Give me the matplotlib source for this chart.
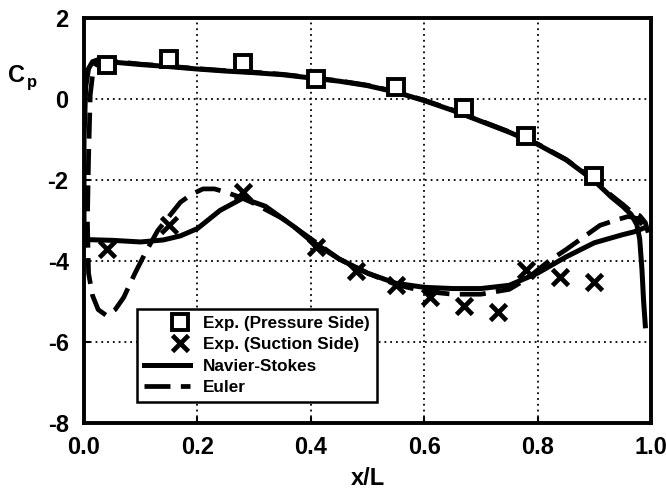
import numpy as np
import matplotlib
matplotlib.use('Agg')
import matplotlib.pyplot as plt
from matplotlib.lines import Line2D
from matplotlib.legend_handler import HandlerLine2DCompound

plt.rcParams['font.family'] = 'Liberation Sans'
plt.rcParams['font.weight'] = 'bold'
plt.rcParams['axes.unicode_minus'] = False

# measured Cp
exp_ps_x = [0.04, 0.15, 0.28, 0.41, 0.55, 0.67, 0.78, 0.90]
exp_ps_cp = [0.85, 0.98, 0.88, 0.50, 0.29, -0.23, -0.91, -1.90]
exp_ss_x = [0.04, 0.15, 0.28, 0.41, 0.48, 0.55, 0.61, 0.67, 0.73, 0.78, 0.84, 0.90]
exp_ss_cp = [-3.70, -3.10, -2.30, -3.65, -4.25, -4.60, -4.90, -5.12, -5.27, -4.22, -4.40, -4.52]

# Navier-Stokes solution
ns_ss_x = [0.0, 0.05, 0.10, 0.14, 0.17, 0.20, 0.24, 0.28, 0.32, 0.37, 0.40, 0.45,
           0.50, 0.55, 0.60, 0.65, 0.70, 0.75, 0.80, 0.85, 0.90, 0.95, 0.97, 0.985]
ns_ss_cp = [-3.47, -3.49, -3.53, -3.48, -3.38, -3.20, -2.75, -2.45, -2.65, -3.15, -3.50, -3.95,
            -4.30, -4.55, -4.65, -4.68, -4.68, -4.60, -4.30, -3.90, -3.55, -3.35, -3.28, -3.20]
ns_ps_x = [0.0, 0.0, 0.003, 0.008, 0.015, 0.025, 0.04, 0.06, 0.10, 0.15, 0.20, 0.25, 0.30,
           0.35, 0.40, 0.45, 0.50, 0.55, 0.60, 0.65, 0.70, 0.75, 0.80, 0.85, 0.90, 0.93,
           0.95, 0.965, 0.975, 0.98, 0.984, 0.987, 0.99]
ns_ps_cp = [-3.47, -1.0, 0.30, 0.75, 0.92, 0.97, 0.95, 0.90, 0.85, 0.80, 0.74, 0.69, 0.65,
            0.60, 0.52, 0.44, 0.33, 0.17, -0.04, -0.28, -0.55, -0.82, -1.12, -1.50, -2.02, -2.42,
            -2.65, -2.85, -3.10, -3.45, -4.20, -5.00, -5.60]

# Euler solution
eu_ss_x = [0.006, 0.008, 0.015, 0.025, 0.04, 0.055, 0.07, 0.09, 0.11, 0.13, 0.15, 0.17,
           0.19, 0.21, 0.23, 0.25, 0.28, 0.30, 0.35, 0.40, 0.45, 0.50, 0.55, 0.60, 0.65,
           0.70, 0.75, 0.78, 0.82, 0.85, 0.88, 0.91, 0.94, 0.96, 0.975, 0.985]
eu_ss_cp = [-3.0, -4.3, -4.85, -5.20, -5.35, -5.20, -4.90, -4.30, -3.75, -3.25, -2.90, -2.55,
            -2.35, -2.22, -2.22, -2.30, -2.45, -2.58, -2.95, -3.45, -3.95, -4.30, -4.58, -4.75, -4.82,
            -4.82, -4.70, -4.45, -4.00, -3.72, -3.42, -3.12, -2.98, -2.90, -2.95, -3.10]
eu_ps_x = [0.006, 0.008, 0.011, 0.016, 0.025, 0.04, 0.06, 0.10, 0.15, 0.20, 0.25, 0.30,
           0.35, 0.40, 0.45, 0.50, 0.55, 0.60, 0.65, 0.70, 0.75, 0.80, 0.85, 0.90, 0.93,
           0.95, 0.965, 0.98, 0.99, 0.995]
eu_ps_cp = [-3.0, -1.5, 0.10, 0.70, 0.95, 0.97, 0.92, 0.86, 0.81, 0.75, 0.70, 0.66,
            0.61, 0.53, 0.45, 0.34, 0.18, -0.03, -0.27, -0.54, -0.81, -1.11, -1.49, -2.00, -2.38,
            -2.60, -2.78, -2.88, -3.05, -3.30]


class HandlerMarkerRight(HandlerLine2DCompound):
    # put the single legend marker near the right end of the handle
    def get_xdata(self, legend, xdescent, ydescent, width, height, fontsize):
        xdata = np.array([-xdescent, -xdescent + width], float)
        return xdata, np.array([-xdescent + 0.8 * width])


fig = plt.figure(figsize=(6.66, 4.90), dpi=100)
ax = fig.add_axes([84 / 666, 1 - 423 / 490, 567 / 666, 405 / 490])

ns_x = ns_ss_x[::-1] + ns_ps_x[1:]
ns_cp = ns_ss_cp[::-1] + ns_ps_cp[1:]
eu_x = eu_ss_x[::-1] + eu_ps_x[1:]
eu_cp = eu_ss_cp[::-1] + eu_ps_cp[1:]

ax.plot(eu_x, eu_cp, color='k', lw=3.4, linestyle=(0, (5.5, 2.2)), zorder=3)
ax.plot(ns_x, ns_cp, color='k', lw=3.6, solid_joinstyle='round', zorder=4)
ax.plot(exp_ps_x, exp_ps_cp, ls='none', marker='s', ms=12, mfc='white', mec='k', mew=2.8, zorder=5)
ax.plot(exp_ss_x, exp_ss_cp, ls='none', marker='x', ms=11, mec='k', mew=3.4, zorder=5)

ax.set_xlim(0, 1)
ax.set_ylim(-8, 2)
ax.set_xticks(np.arange(0, 1.01, 0.2))
ax.set_yticks(np.arange(-8, 2.1, 2))
ax.set_xticklabels(['0.0', '0.2', '0.4', '0.6', '0.8', '1.0'])
ax.set_yticklabels(['-8', '-6', '-4', '-2', '0', '2'])
ax.tick_params(axis='x', direction='in', length=4, width=1.5, labelsize=17, pad=9)
ax.tick_params(axis='y', direction='in', length=4, width=1.5, labelsize=17, pad=11)
ax.grid(True, color='k', lw=1.3, linestyle=(0, (1, 2.2)))
ax.set_axisbelow(True)
for sp in ax.spines.values():
    sp.set_linewidth(2.8)

ax.set_xlabel('x/L', fontsize=17, fontweight='bold', labelpad=6)
fig.text(8 / 666, 1 - 75 / 490, 'C', fontsize=17, fontweight='bold', va='center', ha='left')
fig.text(27 / 666, 1 - 83 / 490, 'p', fontsize=12, fontweight='bold', va='center', ha='left')

h_ps = Line2D([], [], ls='none', marker='s', ms=12, mfc='white', mec='k', mew=2.8)
h_ss = Line2D([], [], ls='none', marker='x', ms=11, mec='k', mew=3.4)
h_ns = Line2D([], [], color='k', lw=3.6)
h_eu = Line2D([], [], color='k', lw=3.4, linestyle=(0, (5.5, 2.2)))
leg = ax.legend([h_ps, h_ss, h_ns, h_eu],
                ['Exp. (Pressure Side)', 'Exp. (Suction Side)', 'Navier-Stokes', 'Euler'],
                loc='lower left', bbox_to_anchor=(0.093, 0.052), borderaxespad=0,
                prop={'size': 12.3, 'weight': 'bold'}, handlelength=2.7, handletextpad=0.8,
                borderpad=0.4, labelspacing=0.38, fancybox=False, framealpha=1,
                edgecolor='k', numpoints=1,
                handler_map={h_ps: HandlerMarkerRight(), h_ss: HandlerMarkerRight()})
leg.get_frame().set_linewidth(1.8)

plt.savefig('out.png', dpi=100)
plt.close()
